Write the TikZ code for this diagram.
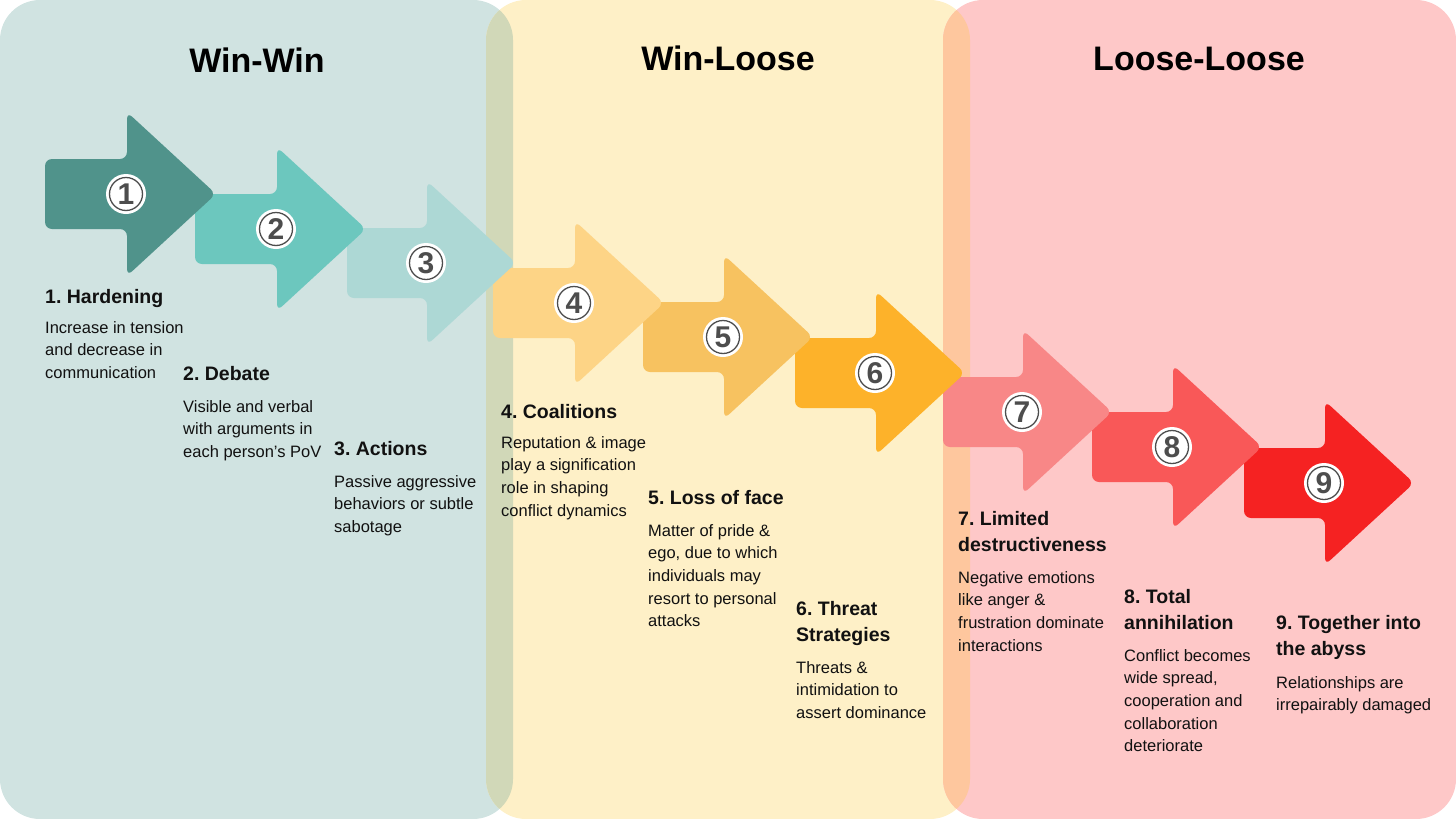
\documentclass[tikz,border=0pt]{standalone}
\usepackage{fontspec}
\setmainfont{Liberation Sans}
\frenchspacing
\definecolor{pteal}{HTML}{D0E3E1}
\definecolor{pyel}{HTML}{FEF0C7}
\definecolor{ppink}{HTML}{FEC8C8}
\definecolor{olA}{HTML}{D1D8B8}
\definecolor{olB}{HTML}{FEC79E}
\definecolor{aA}{HTML}{50938B}
\definecolor{aB}{HTML}{6CC7BE}
\definecolor{aC}{HTML}{ADD8D5}
\definecolor{aD}{HTML}{FDD486}
\definecolor{aE}{HTML}{F7C260}
\definecolor{aF}{HTML}{FDB22A}
\definecolor{aG}{HTML}{F88787}
\definecolor{aH}{HTML}{F95858}
\definecolor{aI}{HTML}{F52222}
\definecolor{numgray}{HTML}{4D4D4D}
\definecolor{txt}{HTML}{111111}
\tikzset{
  numring/.style={circle, fill=white, minimum size=40pt, inner sep=0pt,
    font=\fontsize{30}{30}\selectfont\bfseries, text=numgray,
    path picture={\draw[numgray, line width=1.3pt] (path picture bounding box.center) circle (16.5pt);}},
  bigtitle/.style={anchor=base, inner sep=0pt, font=\fontsize{34}{40}\selectfont\bfseries, text=black},
  stitle/.style={anchor=base west, inner sep=0pt, align=left, font=\fontsize{19.5}{26.5}\selectfont\bfseries\frenchspacing, text=txt},
  sbody/.style={anchor=base west, inner sep=0pt, align=left, font=\fontsize{16.5}{22.7}\selectfont\frenchspacing, text=txt}
}
\newcommand\stagearrow[5]{%
  \fill[#1, rounded corners=7pt] (#2,#4-35) -- (#3,#4-35) -- (#3,#4-82) -- (#3+89,#4) -- (#3,#4+82) -- (#3,#4+35) -- (#2,#4+35) -- cycle;
  \node[numring] (n#5) at (#3-1,#4) {#5};
}
\begin{document}
\begin{tikzpicture}[x=1pt,y=-1pt]
\useasboundingbox (0,0) rectangle (1456,819);
% panels
\fill[pteal, rounded corners=40pt] (0,0) rectangle (513,819);
\fill[pyel, rounded corners=40pt] (486,0) rectangle (970,819);
\fill[ppink, rounded corners=40pt] (943,0) rectangle (1456,819);
\begin{scope}
  \clip[rounded corners=40pt] (0,0) rectangle (513,819);
  \fill[olA, rounded corners=40pt] (486,0) rectangle (970,819);
\end{scope}
\begin{scope}
  \clip[rounded corners=40pt] (486,0) rectangle (970,819);
  \fill[olB, rounded corners=40pt] (943,0) rectangle (1456,819);
\end{scope}
% titles
\node[bigtitle] (ww) at (257,72) {Win-Win};
\node[bigtitle] (wl) at (728,70) {Win-Loose};
\node[bigtitle] (ll) at (1199,70) {Loose-Loose};
% arrows (last first so earlier tips lie on top)
\stagearrow{aI}{1244}{1325}{483}{9}
\stagearrow{aH}{1092}{1173}{447}{8}
\stagearrow{aG}{943}{1023}{412}{7}
\stagearrow{aF}{795}{876}{373}{6}
\stagearrow{aE}{643}{724}{337}{5}
\stagearrow{aD}{493}{575}{303}{4}
\stagearrow{aC}{347}{427}{263}{3}
\stagearrow{aB}{195}{277}{229}{2}
\stagearrow{aA}{45}{127}{194}{1}
% stage texts (anchor = baseline of last line)
\node[stitle] (s1) at (45,303) {1. Hardening};
\node[sbody] (b1) at (45,378.4) {Increase in tension\\and decrease in\\communication};
\node[stitle] (s2) at (183,380) {2. Debate};
\node[sbody] (b2) at (183,457.4) {Visible and verbal\\with arguments in\\each person’s PoV};
\node[stitle] (s3) at (334,455) {3. Actions};
\node[sbody] (b3) at (334,532.4) {Passive aggressive\\behaviors or subtle\\sabotage};
\node[stitle] (s4) at (501,418) {4. Coalitions};
\node[sbody] (b4) at (501,516.1) {Reputation \& image\\play a signification\\role in shaping\\conflict dynamics};
\node[stitle] (s5) at (648,504) {5. Loss of face};
\node[sbody] (b5) at (648,626.8) {Matter of pride \&\\ego, due to which\\individuals may\\resort to personal\\attacks};
\node[stitle] (s6) at (796,641.5) {6. Threat\\Strategies};
\node[sbody] (b6) at (796,718.4) {Threats \&\\intimidation to\\assert dominance};
\node[stitle] (s7) at (958,551.5) {7. Limited\\destructiveness};
\node[sbody] (b7) at (958,651.1) {Negative emotions\\like anger \&\\frustration dominate\\interactions};
\node[stitle] (s8) at (1124,629.5) {8. Total\\annihilation};
\node[sbody] (b8) at (1124,751.8) {Conflict becomes\\wide spread,\\cooperation and\\collaboration\\deteriorate};
\node[stitle] (s9) at (1276,655.5) {9. Together into\\the abyss};
\node[sbody] (b9) at (1276,710.7) {Relationships are\\irrepairably damaged};
\end{tikzpicture}
\end{document}
